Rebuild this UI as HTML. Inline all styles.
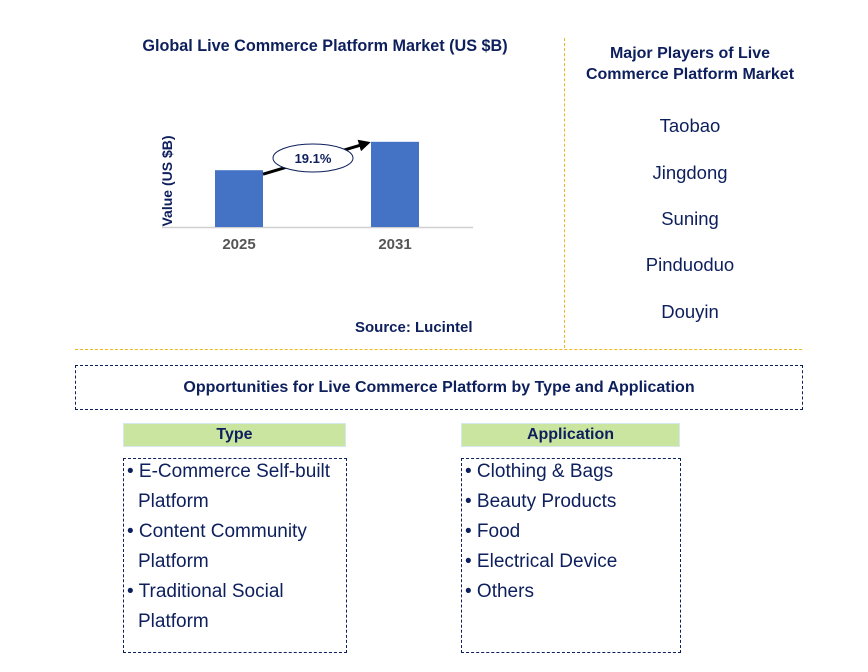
<!DOCTYPE html>
<html><head><meta charset="utf-8"><style>
body{margin:0;width:868px;height:672px;background:#fff;font-family:"Liberation Sans",sans-serif;position:relative;overflow:hidden}
.a{position:absolute}
.t{color:#0d1f5c;font-weight:bold}
.item{position:absolute;font-size:19px;color:#0d1f5c;white-space:nowrap}
.pl{font-size:18.5px}
</style></head><body>
<div class="a t" style="left:100px;top:37px;width:450px;text-align:center;font-size:16.2px">Global Live Commerce Platform Market (US $B)</div>
<svg class="a" style="left:0;top:0" width="560" height="340">
<g id="g"></g>
</svg>
<div class="a t" style="left:355px;top:319px;font-size:15px">Source: Lucintel</div>
<div class="a" style="left:564px;top:38px;height:310px;border-left:1px dashed #f0b820"></div>
<div class="a" style="left:75px;top:349px;width:727px;border-top:1px dashed #f0b820"></div>
<div class="a t" style="left:570px;top:43px;width:240px;text-align:center;font-size:16px;line-height:21px">Major Players of Live<br>Commerce Platform Market</div>
<div class="item pl" style="left:570px;width:240px;text-align:center;top:115px">Taobao</div>
<div class="item pl" style="left:570px;width:240px;text-align:center;top:162px">Jingdong</div>
<div class="item pl" style="left:570px;width:240px;text-align:center;top:208px">Suning</div>
<div class="item pl" style="left:570px;width:240px;text-align:center;top:254px">Pinduoduo</div>
<div class="item pl" style="left:570px;width:240px;text-align:center;top:301px">Douyin</div>
<div class="a t" style="left:75px;top:365px;width:726px;height:43px;border:1px dashed #0d1f5c;text-align:center;line-height:43px;font-size:16px">Opportunities for Live Commerce Platform by Type and Application</div>
<div class="a t" style="left:123px;top:423px;width:221px;height:22px;background:#c9e5a0;border:1px solid #d4e8f0;text-align:center;line-height:22px;font-size:16px">Type</div>
<div class="a" style="left:123px;top:458px;width:222px;height:193px;border:1px dashed #0d1f5c"></div>
<div class="item" style="left:127px;top:461px">• E-Commerce Self-built</div>
<div class="item" style="left:138px;top:491px">Platform</div>
<div class="item" style="left:127px;top:521px">• Content Community</div>
<div class="item" style="left:138px;top:551px">Platform</div>
<div class="item" style="left:127px;top:581px">• Traditional Social</div>
<div class="item" style="left:138px;top:611px">Platform</div>
<div class="a t" style="left:461px;top:423px;width:217px;height:22px;background:#c9e5a0;border:1px solid #d4e8f0;text-align:center;line-height:22px;font-size:16px">Application</div>
<div class="a" style="left:461px;top:458px;width:218px;height:193px;border:1px dashed #0d1f5c"></div>
<div class="item" style="left:465px;top:461px">• Clothing &amp; Bags</div>
<div class="item" style="left:465px;top:491px">• Beauty Products</div>
<div class="item" style="left:465px;top:521px">• Food</div>
<div class="item" style="left:465px;top:551px">• Electrical Device</div>
<div class="item" style="left:465px;top:581px">• Others</div>
<script>
const categories=["2025","2031"];
const values=[4.0,6.0];
const cagrLabel="19.1%";
const NS="http://www.w3.org/2000/svg";
const g=document.getElementById('g');
const base=227, pxPer=14.2;
const xCenter=i=>239+i*156;
const y=v=>base-v*pxPer;
function mk(t,a){const e=document.createElementNS(NS,t);for(const k in a)e.setAttribute(k,a[k]);g.appendChild(e);return e;}
let ax=mk('line',{x1:162,y1:base+0.5,x2:473,y2:base+0.5,stroke:'#d0d0d0','stroke-width':1.5});


let yt=mk('text',{x:0,y:0,transform:'translate(172,181) rotate(-90)','text-anchor':'middle','font-size':14,'font-weight':'bold',fill:'#0d1f5c','font-family':'Liberation Sans'});
yt.textContent='Value (US $B)';


const tops=[];
categories.forEach((c,i)=>{
 const r=mk('rect',{x:xCenter(i)-24,y:y(values[i]),width:48,height:values[i]*pxPer,fill:'#4472c4'});
 
 
 tops.push(y(values[i]));
 const t=mk('text',{x:xCenter(i),y:249,'text-anchor':'middle','font-size':15,'font-weight':'bold',fill:'#555','font-family':'Liberation Sans'});
 t.textContent=c;
 
 
});
const x1=xCenter(0)+24,y1=tops[0]+4,x2=xCenter(1)-24,y2=tops[1];
mk('defs',{}).innerHTML='<marker id="ah" markerWidth="4" markerHeight="4" refX="2" refY="2" orient="auto"><path d="M0,0L4,2L0,4z" fill="#000"/></marker>';
const ar=mk('line',{x1:x1,y1:y1,x2:x2-6,y2:y2+2,stroke:'#000','stroke-width':3,'marker-end':'url(#ah)'});


const cx=(x1+x2)/2-4,cy=(y1+y2)/2;
const el=mk('ellipse',{cx:cx,cy:cy,rx:40,ry:14,fill:'#fff',stroke:'#0d1f5c','stroke-width':1});


const ct=mk('text',{x:cx,y:cy+5,'text-anchor':'middle','font-size':13,'font-weight':'bold',fill:'#0d1f5c','font-family':'Liberation Sans'});
ct.textContent=cagrLabel;


</script>
</body></html>
